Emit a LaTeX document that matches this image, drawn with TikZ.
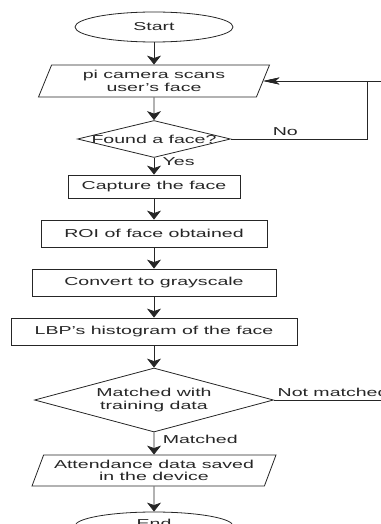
\documentclass[tikz,border=0pt]{standalone}
\usepackage{fontspec}
\setmainfont[FakeStretch=1.7]{Liberation Sans}
\usetikzlibrary{positioning,arrows.meta,shapes.geometric}

\begin{document}
\begin{tikzpicture}[x=1pt, y=-1pt, >={Stealth[length=9pt, width=14pt, inset=2.5pt]},
  every node/.style={font=\fontsize{11.5}{12.5}\selectfont, text=black!85},
  wire/.style={line width=0.8pt, black!85},
  terminal/.style={wire, draw, ellipse, minimum width=158pt, minimum height=30pt, inner sep=0pt},
  io/.style={wire, draw, trapezium, trapezium stretches body, inner sep=0pt, align=center},
  process/.style={wire, draw, rectangle, minimum height=27pt, inner sep=0pt},
  decision/.style={wire, draw, diamond, inner sep=0pt, align=center},
  side/.style={>={Stealth[length=16pt, width=7pt, inset=4pt]}}]
  \useasboundingbox (0,0) rectangle (380,524);
  % flow nodes, top to bottom
  \node[terminal] (start) at (154,27) {Start};
  \node[io, trapezium left angle=58, trapezium right angle=122, minimum width=231pt, minimum height=32pt]
       (scan) at (154,81) {pi camera scans\\user's face};
  \node[decision, minimum width=153pt, minimum height=37pt] (found) at (154,139) {\makebox[0pt]{Found a face?}};
  \node[process, minimum width=172pt, minimum height=23pt] (capture) at (154,186.5) {Capture the face};
  \node[process, minimum width=226pt] (roi) at (154,233.5) {ROI of face obtained};
  \node[process, minimum width=244pt] (gray) at (154,282.5) {Convert to grayscale};
  \node[process, minimum width=286pt] (lbp) at (154,331.5) {LBP's histogram of the face};
  \node[decision, shape aspect=3.7, minimum width=239pt, minimum height=64pt]
       (match) at (154,400) {Matched with\\training data};
  \node[io, trapezium left angle=61, trapezium right angle=119, minimum width=244pt, minimum height=31pt]
       (save) at (154,470.5) {Attendance data saved\\in the device};
  \node[terminal, minimum height=28pt] (end) at (154,526) {\raisebox{5pt}{End}};
  \coordinate (noturn) at (367,81);
  \coordinate (offpage) at (400,81);
  % connectors
  \draw[wire,->] (start) -- (scan);
  \draw[wire,->] (scan) -- (found);
  \draw[wire,->] (found) -- node[pos=0.22, right=5pt]{Yes} (capture);
  \draw[wire,->] (capture) -- (roi);
  \draw[wire,->] (roi) -- (gray);
  \draw[wire,->] (gray) -- (lbp);
  \draw[wire,->] (lbp) -- (match);
  \draw[wire,->] (match) -- node[pos=0.3, right=5pt]{Matched} (save);
  \draw[wire,->] (save) -- (end);
  \draw[wire,->,side] (found.east) -- node[pos=0.4, above]{No} (found.east -| noturn) |- (scan.east);
  \draw[wire,->,side] (match.east) -- node[pos=0, above right]{Not matched} (match.east -| offpage) |- (scan.east);
\end{tikzpicture}
\end{document}
